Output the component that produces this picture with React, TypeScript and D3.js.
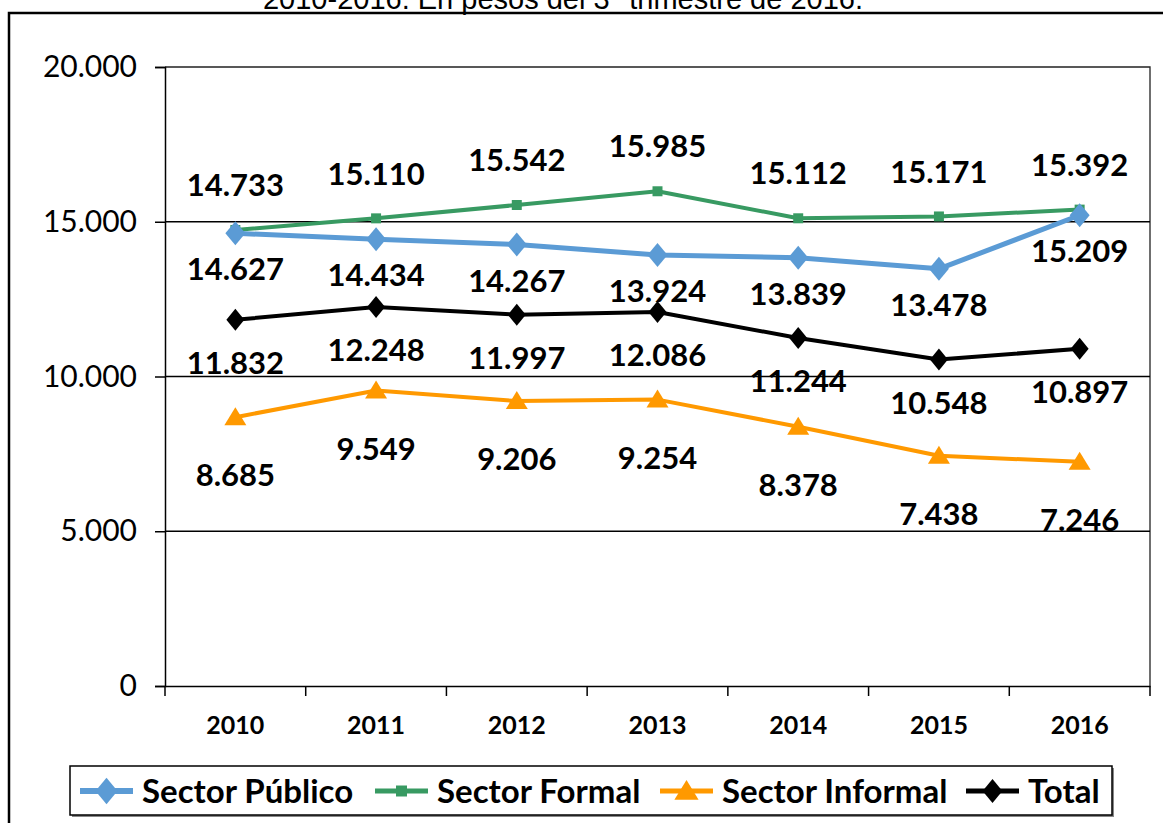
import React, { useEffect, useRef } from 'react';
import * as d3 from 'd3';

const years = ['2010', '2011', '2012', '2013', '2014', '2015', '2016'];
const publico = [14627, 14434, 14267, 13924, 13839, 13478, 15209];
const formal = [14733, 15110, 15542, 15985, 15112, 15171, 15392];
const informal = [8685, 9549, 9206, 9254, 8378, 7438, 7246];
const total = [11832, 12248, 11997, 12086, 11244, 10548, 10897];
const yTicks = [0, 5000, 10000, 15000, 20000];
const seriesNames = ['Sector Público', 'Sector Formal', 'Sector Informal', 'Total'];
const titleText = '2010-2016. En pesos del 3° trimestre de 2016.';

const fmt = (v: number) => d3.format(',')(v).replace(/,/g, '.');

const App = () => {
  const ref = useRef<SVGSVGElement>(null);

  useEffect(() => {
    const svg = d3.select(ref.current);
    svg.selectAll('*').remove();

    const W = 1163, H = 823;
    const plot = { left: 165, right: 1150, top: 67, bottom: 686 };

    const x = d3.scaleBand().domain(years).range([plot.left, plot.right]);
    const y = d3.scaleLinear().domain([0, 20000]).range([plot.bottom, plot.top]);
    const cx = (d: string) => (x(d) as number) + x.bandwidth() / 2;

    svg.append('rect').attr('width', W).attr('height', H).attr('fill', '#fff');

    // titulo (cortado arriba, como en el original)
    svg.append('text')
      .attr('x', 563).attr('y', 9)
      .attr('text-anchor', 'middle')
      .attr('font-family', 'Liberation Sans, Arial, sans-serif')
      .attr('font-size', 29)
      .text(titleText);

    // marco exterior
    svg.append('path')
      .attr('d', `M9,${H} L9,13 L${W + 5},13`)
      .attr('fill', 'none').attr('stroke', '#000').attr('stroke-width', 2.5);

    // borde del area de trazado
    svg.append('path')
      .attr('d', `M${plot.left},${plot.top} L${plot.right},${plot.top} L${plot.right},${plot.bottom}`)
      .attr('fill', 'none').attr('stroke', '#222').attr('stroke-width', 1.3);

    // grilla
    svg.append('g')
      .selectAll('line')
      .data(yTicks.filter(t => t > 0 && t < 20000))
      .join('line')
      .attr('x1', plot.left).attr('x2', plot.right)
      .attr('y1', d => y(d)).attr('y2', d => y(d))
      .attr('stroke', '#000').attr('stroke-width', 1.3);

    // eje Y
    const yAxis = svg.append('g')
      .attr('transform', `translate(${plot.left},0)`)
      .call(d3.axisLeft(y).tickValues(yTicks).tickSize(10).tickFormat(d => fmt(+d)));
    yAxis.select('.domain').attr('stroke', '#000').attr('stroke-width', 1.5);
    yAxis.selectAll('.tick line').attr('stroke', '#000').attr('stroke-width', 1.5);
    yAxis.selectAll('.tick text')
      .attr('x', -28)
      .attr('font-family', 'Lato, sans-serif')
      .attr('font-size', 30)
      .attr('fill', '#000');

    // eje X
    const xAxis = svg.append('g')
      .attr('transform', `translate(0,${plot.bottom})`)
      .call(d3.axisBottom(x).tickSize(0).tickSizeOuter(0));
    xAxis.select('.domain').attr('stroke', '#000').attr('stroke-width', 1.5);
    xAxis.selectAll('.tick text')
      .attr('y', 30)
      .attr('dy', '0.71em')
      .attr('font-family', 'Lato, sans-serif')
      .attr('font-weight', 'bold')
      .attr('font-size', 25)
      .attr('fill', '#000');
    svg.append('g')
      .selectAll('line')
      .data([...years.map(d => x(d) as number), plot.right])
      .join('line')
      .attr('x1', d => d).attr('x2', d => d)
      .attr('y1', plot.bottom).attr('y2', plot.bottom + 10)
      .attr('stroke', '#000').attr('stroke-width', 1.5);

    const series = [
      { name: seriesNames[0], values: publico, color: '#5B9BD5', width: 5, marker: 'diamond', size: [10, 12], dy: 36 },
      { name: seriesNames[1], values: formal, color: '#389A62', width: 4, marker: 'square', size: [5, 5], dy: -45 },
      { name: seriesNames[2], values: informal, color: '#FF9900', width: 4, marker: 'triangle', size: [11, 10], dy: 58 },
      { name: seriesNames[3], values: total, color: '#000', width: 4, marker: 'diamond', size: [9, 11], dy: 43 },
    ];

    const markerPath = (m: string, [w, h]: number[]) => {
      if (m === 'diamond') return `M0,${-h} L${w},0 L0,${h} L${-w},0 Z`;
      if (m === 'square') return `M${-w},${-h} H${w} V${h} H${-w} Z`;
      return `M0,${-h} L${w},${h * 0.8} L${-w},${h * 0.8} Z`;
    };

    const line = d3.line<number>()
      .x((_, i) => cx(years[i]))
      .y(d => y(d));

    // orden de dibujo: informal, total, formal, publico encima
    const drawOrder = [2, 3, 1, 0];
    drawOrder.forEach(k => {
      const s = series[k];
      const g = svg.append('g');
      g.append('path')
        .datum(s.values)
        .attr('d', line)
        .attr('fill', 'none')
        .attr('stroke', s.color)
        .attr('stroke-width', s.width)
        .attr('stroke-linejoin', 'round');
      g.selectAll('path.m')
        .data(s.values)
        .join('path')
        .attr('class', 'm')
        .attr('transform', (d, i) => `translate(${cx(years[i])},${y(d)})`)
        .attr('d', markerPath(s.marker, s.size))
        .attr('fill', s.color);
    });

    // etiquetas de datos
    series.forEach(s => {
      svg.append('g')
        .selectAll('text')
        .data(s.values)
        .join('text')
        .attr('x', (_, i) => cx(years[i]))
        .attr('y', d => y(d) + s.dy)
        .attr('dy', '0.36em')
        .attr('text-anchor', 'middle')
        .attr('font-family', 'Lato, sans-serif')
        .attr('font-weight', 'bold')
        .attr('font-size', 31)
        .attr('fill', '#000')
        .text(d => fmt(d));
    });

    // leyenda
    const leg = svg.append('g');
    leg.append('rect')
      .attr('x', 72).attr('y', 768).attr('width', 1042).attr('height', 49)
      .attr('fill', '#888');
    leg.append('rect')
      .attr('x', 70).attr('y', 766).attr('width', 1042).attr('height', 49)
      .attr('fill', '#fff').attr('stroke', '#000').attr('stroke-width', 1.5);
    const legX = [80, 375, 660, 966];
    const ly = 791;
    series.forEach((s, i) => {
      const lx = legX[i];
      leg.append('line')
        .attr('x1', lx).attr('x2', lx + 53)
        .attr('y1', ly).attr('y2', ly)
        .attr('stroke', s.color).attr('stroke-width', s.width + 1);
      leg.append('path')
        .attr('transform', `translate(${lx + 26.5},${ly})`)
        .attr('d', markerPath(s.marker, s.size.map(v => v * 1.1)))
        .attr('fill', s.color);
      leg.append('text')
        .attr('x', lx + 62).attr('y', ly)
        .attr('dy', '0.36em')
        .attr('font-family', 'Lato, sans-serif')
        .attr('font-weight', 'bold')
        .attr('font-size', 33)
        .attr('fill', '#000')
        .text(s.name);
    });
  }, []);

  return (
    <svg
      ref={ref}
      width={1163}
      height={823}
      style={{ position: 'absolute', left: 0, top: 0, display: 'block' }}
    />
  );
};

export default App;
